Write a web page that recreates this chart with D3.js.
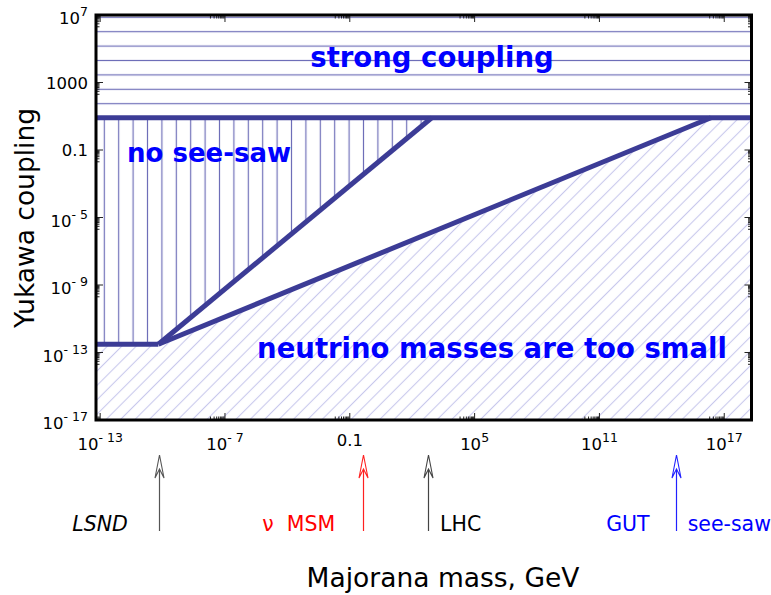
<!DOCTYPE html>
<html><head><meta charset="utf-8">
<script src="https://cdn.jsdelivr.net/npm/d3@7"></script>
<style>body{margin:0;background:#fff} svg{display:block;font-family:"DejaVu Sans",sans-serif}</style>
</head><body><svg id="c" width="771" height="595"></svg>
<script>
// ---- data ----
const xTicks = [1e-13, 1e-7, 0.1, 1e5, 1e11, 1e17];
const xTickLabels = ["10^-13", "10^-7", "0.1", "10^5", "10^11", "10^17"];
const yTicks = [1e7, 1000, 0.1, 1e-5, 1e-9, 1e-13, 1e-17];
const yTickLabels = ["10^7", "1000", "0.1", "10^-5", "10^-9", "10^-13", "10^-17"];
const xDomain = [Math.pow(10, -13.2), Math.pow(10, 18.31)];
const yDomain = [1e-17, 1e7];
const strongCoupling = 8.2;      // upper Yukawa bound
const minYukawa = 3.1e-13;       // lower Yukawa floor
const cornerMass = 6.3e-11;      // where the diagonals start
const noSeesawMass = 870;        // upper diagonal meets strong coupling
const seesawMass = 2.3e16;       // lower diagonal meets strong coupling
const arrowNames = ["LSND", "nuMSM", "LHC", "seesaw"];
const arrowMasses = [6.6e-11, 0.44, 580, 4.6e14];
const arrowLabelTexts = ["LSND", "ν MSM", "LHC", "GUT", "see-saw"];
const arrowLabelOf = [0, 1, 2, 3, 3];
const regionLabels = ["strong coupling", "no see-saw", "neutrino masses are too small"];

// ---- layout / style ----
const L = 96, R = 751.5, T = 15, B = 420;
const svg = d3.select("#c");
const x = d3.scaleLog().domain(xDomain).range([L, R]);
const y = d3.scaleLog().domain(yDomain).range([B, T]);
const lineColor = "#3c3c96";
const arrowColors = ["#555", "#ff2020", "#444", "#2020ff"];
const labelColors = ["#000", "#ff0000", "#000", "#0000ff", "#0000ff"];

const defs = svg.append("defs");
defs.append("clipPath").attr("id", "clip").append("rect")
  .attr("x", L).attr("y", T).attr("width", R - L).attr("height", B - T);
const sp = 14.4;
const pv = defs.append("pattern").attr("id", "vh").attr("patternUnits", "userSpaceOnUse")
  .attr("x", 104.3 - sp / 2).attr("y", 0).attr("width", sp).attr("height", 10);
pv.append("line").attr("x1", sp / 2).attr("x2", sp / 2).attr("y1", -1).attr("y2", 11)
  .attr("stroke", "#6e6eb8").attr("stroke-width", 1.2);
const ph = defs.append("pattern").attr("id", "hh").attr("patternUnits", "userSpaceOnUse")
  .attr("x", 0).attr("y", 31.7 - sp / 2).attr("width", 10).attr("height", sp);
ph.append("line").attr("y1", sp / 2).attr("y2", sp / 2).attr("x1", -1).attr("x2", 11)
  .attr("stroke", "#6e6eb8").attr("stroke-width", 1.2);
const dsp = sp / Math.SQRT2;
const pd = defs.append("pattern").attr("id", "dh").attr("patternUnits", "userSpaceOnUse")
  .attr("width", dsp).attr("height", 10).attr("patternTransform", "rotate(45)");
pd.append("line").attr("x1", dsp / 2).attr("x2", dsp / 2).attr("y1", -1).attr("y2", 11)
  .attr("stroke", "#c9c9ec").attr("stroke-width", 1.1);

const g = svg.append("g").attr("clip-path", "url(#clip)");
const xmin = xDomain[0], xmax = xDomain[1], ymin = yDomain[0], ymax = yDomain[1];
const poly = pts => "M" + pts.map(p => x(p[0]) + "," + y(p[1])).join("L") + "Z";
g.append("path").attr("d", poly([[xmin, strongCoupling], [xmax, strongCoupling], [xmax, ymax], [xmin, ymax]]))
  .attr("fill", "url(#hh)");
g.append("path").attr("d", poly([[xmin, strongCoupling], [noSeesawMass, strongCoupling], [cornerMass, minYukawa], [xmin, minYukawa]]))
  .attr("fill", "url(#vh)");
g.append("path").attr("d", poly([[xmin, minYukawa], [cornerMass, minYukawa], [seesawMass, strongCoupling], [xmax, strongCoupling], [xmax, ymin], [xmin, ymin]]))
  .attr("fill", "url(#dh)");

const line = d3.line().x(d => x(d[0])).y(d => y(d[1]));
const bounds = [
  [[xmin, strongCoupling], [xmax, strongCoupling]],
  [[xmin, minYukawa], [cornerMass, minYukawa]],
  [[cornerMass, minYukawa], [noSeesawMass, strongCoupling]],
  [[cornerMass, minYukawa], [seesawMass, strongCoupling]]
];
g.selectAll("path.b").data(bounds).enter().append("path").attr("class", "b")
  .attr("d", line).attr("fill", "none").attr("stroke", lineColor)
  .attr("stroke-width", 5).attr("stroke-linecap", "butt");

// region labels
const rl = [
  {t: regionLabels[0], x: 432, y: 67, a: "middle", s: 27.5},
  {t: regionLabels[1], x: 127, y: 162, a: "start", s: 26},
  {t: regionLabels[2], x: 492, y: 358, a: "middle", s: 27.5}
];
svg.selectAll("text.rl").data(rl).enter().append("text").attr("class", "rl")
  .attr("x", d => d.x).attr("y", d => d.y).attr("text-anchor", d => d.a)
  .attr("font-size", d => d.s).attr("font-weight", "bold").attr("fill", "#0000ff").text(d => d.t);

// ticks (mirrored, inward)
const tg = svg.append("g").attr("stroke", "#222").attr("stroke-width", 1);
function minors(ticks) {
  const out = [];
  ticks.forEach(t => { for (let k = 2; k <= 9; k++) out.push(k * t / 10); });
  return out;
}
const xMin = minors(xTicks).filter(v => v >= xmin && v <= xmax);
const yMin = minors(yTicks).filter(v => v >= ymin && v <= ymax);
xTicks.forEach(v => {
  tg.append("line").attr("x1", x(v)).attr("x2", x(v)).attr("y1", B).attr("y2", B - 7);
  tg.append("line").attr("x1", x(v)).attr("x2", x(v)).attr("y1", T).attr("y2", T + 7);
});
xMin.forEach(v => {
  tg.append("line").attr("x1", x(v)).attr("x2", x(v)).attr("y1", B).attr("y2", B - 3.5);
  tg.append("line").attr("x1", x(v)).attr("x2", x(v)).attr("y1", T).attr("y2", T + 3.5);
});
yTicks.forEach(v => {
  tg.append("line").attr("y1", y(v)).attr("y2", y(v)).attr("x1", L).attr("x2", L + 7);
  tg.append("line").attr("y1", y(v)).attr("y2", y(v)).attr("x1", R).attr("x2", R - 7);
});
yMin.forEach(v => {
  tg.append("line").attr("y1", y(v)).attr("y2", y(v)).attr("x1", L).attr("x2", L + 3.5);
  tg.append("line").attr("y1", y(v)).attr("y2", y(v)).attr("x1", R).attr("x2", R - 3.5);
});

// frame
svg.append("rect").attr("x", L).attr("y", T).attr("width", R - L).attr("height", B - T)
  .attr("fill", "none").attr("stroke", "#000").attr("stroke-width", 3);

// tick labels
function tickLabel(sel, lab, sx, sy, anchor, supBase) {
  const parts = lab.split("^");
  const t = sel.append("text").attr("x", sx).attr("text-anchor", anchor)
    .attr("font-size", 16.5).attr("fill", "#000");
  if (parts.length === 1) {
    t.attr("y", sy).text(lab);
  } else {
    t.attr("y", sy + supBase);
    t.append("tspan").text(parts[0]);
    t.append("tspan").attr("font-size", 12.5).attr("dy", -8)
      .text(parts[1].replace("-", "- "));
  }
}
xTicks.forEach((v, i) => tickLabel(svg, xTickLabels[i], x(v), 446, "middle", 4));
yTicks.forEach((v, i) => tickLabel(svg, yTickLabels[i], 88, y(v) + 6, "end", 3));

// axis titles
svg.append("text").attr("transform", "translate(34,218) rotate(-90)")
  .attr("text-anchor", "middle").attr("font-size", 26.5).text("Yukawa coupling");
svg.append("text").attr("x", 443).attr("y", 587).attr("text-anchor", "middle")
  .attr("font-size", 26.5).text("Majorana mass, GeV");

// arrows
const tipY = 455, baseY = 478, notchY = 469, botY = 531;
arrowMasses.forEach((m, i) => {
  const ax = Math.round(x(m)) + 0.5;
  const c = arrowColors[i];
  svg.append("line").attr("x1", ax).attr("x2", ax).attr("y1", notchY).attr("y2", botY)
    .attr("stroke", c).attr("stroke-width", 1.2);
  svg.append("path")
    .attr("d", `M${ax},${tipY}L${ax - 4.5},${baseY}L${ax},${notchY}L${ax + 4.5},${baseY}Z`)
    .attr("fill", "#fff").attr("stroke", c).attr("stroke-width", 1.1);
});
const labOff = [[-31, "end"], [-28, "end"], [12, "start"], [-26, "end"], [12, "start"]];
arrowLabelTexts.forEach((t, i) => {
  const ax = x(arrowMasses[arrowLabelOf[i]]);
  svg.append("text").attr("x", ax + labOff[i][0]).attr("y", 531)
    .attr("text-anchor", labOff[i][1]).attr("font-size", 20.5)
    .attr("font-style", i === 0 ? "italic" : "normal")
    .attr("fill", labelColors[i]).attr("xml:space", "preserve").style("white-space", "pre")
    .text(i === 1 ? "ν  MSM" : t);
});
</script></body></html>
